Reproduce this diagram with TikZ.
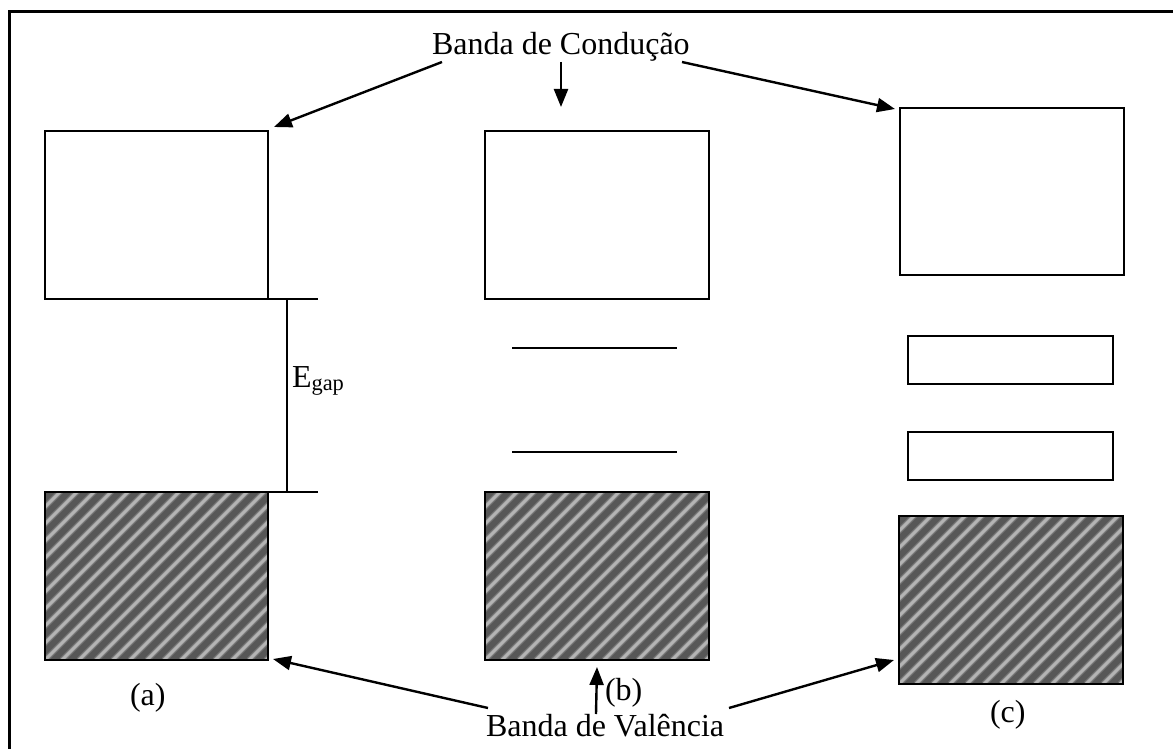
\documentclass[tikz,border=0pt]{standalone}
\usepackage{fontspec}
\setmainfont{Liberation Serif}
\usetikzlibrary{arrows.meta,calc}
\definecolor{hdark}{HTML}{575757}
\definecolor{hmid}{HTML}{7A7A7A}
\definecolor{hlight}{HTML}{B4B4B4}
\begin{document}
\begin{tikzpicture}[x=1pt,y=-1pt,
  every node/.style={font=\fontsize{32}{36}\selectfont},
  lbl/.style={inner sep=0pt, outer sep=0pt},
  cband/.style={draw=black, line width=1.6pt, fill=white, inner sep=0pt, outer sep=0pt, minimum width=224pt, minimum height=168pt},
  vband/.style={draw=black, line width=1.6pt, fill=hdark, inner sep=0pt, outer sep=0pt, minimum width=224pt, minimum height=168pt,
    path picture={
      \foreach \k in {-12,...,15}{
        \draw[hmid, line width=5.5pt] ([xshift={\k*17pt}]path picture bounding box.south west) -- ++(260pt,260pt);
        \draw[hlight, line width=3pt] ([xshift={\k*17pt}]path picture bounding box.south west) -- ++(260pt,260pt);
      }}},
  level/.style={draw=black, line width=1.6pt},
  arr/.style={draw=black, line width=2.4pt, -{Triangle[length=18pt,width=14pt]}},
  frame/.style={draw=black, line width=3pt}
]
\useasboundingbox (0,0) rectangle (1173,749);
\fill[white] (0,0) rectangle (1173,749);
% frame
\draw[frame] (9,760) -- (9,12) -- (1180,12);

% (a)
\node[cband, minimum width=223pt] (CBa) at (156.5,215) {};
\node[vband, minimum width=223pt] (VBa) at (156.5,576) {};
\coordinate (gt) at (318,299);
\coordinate (gb) at (318,492);
\draw[level] (CBa.south east) -- (gt);
\draw[level] (VBa.north east) -- (gb);
\draw[level] (287,299) -- (287,492);
\node[lbl, anchor=base west] (eg) at (292,387) {E\textsubscript{gap}};
\node[lbl, anchor=base west] (la) at (130,705) {(a)};

% (b)
\node[cband] (CBb) at (597,215) {};
\node[vband] (VBb) at (597,576) {};
\coordinate (l1a) at (512,348); \coordinate (l1b) at (677,348);
\coordinate (l2a) at (512,452); \coordinate (l2b) at (677,452);
\draw[level] (l1a) -- (l1b);
\draw[level] (l2a) -- (l2b);
\node[lbl, anchor=base west] (lb) at (605,700) {(b)};

% (c)
\node[cband, minimum height=167pt] (CBc) at (1012,191.5) {};
\node[cband, minimum width=205pt, minimum height=48pt] (Mc1) at (1010.5,360) {};
\node[cband, minimum width=205pt, minimum height=48pt] (Mc2) at (1010.5,456) {};
\node[vband] (VBc) at (1011,600) {};
\node[lbl, anchor=base west] (lc) at (990,722) {(c)};

% labels
\node[lbl, anchor=base west] (tc) at (432,55) {Banda de Condução};
\node[lbl, anchor=base west] (tv) at (486,736) {Banda de Valência};

% arrows conduction
\coordinate (c1) at (442,62);
\coordinate (c2) at (561,62);
\coordinate (c3) at (682,62);
\draw[arr] (c1) -- ([xshift=6pt,yshift=4pt]CBa.north east);
\draw[arr] (c2) -- (561,107);
\draw[arr] (c3) -- ([xshift=-5pt,yshift=-1pt]CBc.north west);

% arrows valence
\coordinate (v1) at (488,708);
\coordinate (v2) at (596,714);
\coordinate (v3) at (729,708);
\draw[arr] (v1) -- ([xshift=5pt,yshift=1pt]VBa.south east);
\draw[arr] (v2) -- ([yshift=-7pt]VBb.south);
\draw[arr] (v3) -- ([xshift=-5pt,yshift=24pt]VBc.south west);
\end{tikzpicture}
\end{document}
